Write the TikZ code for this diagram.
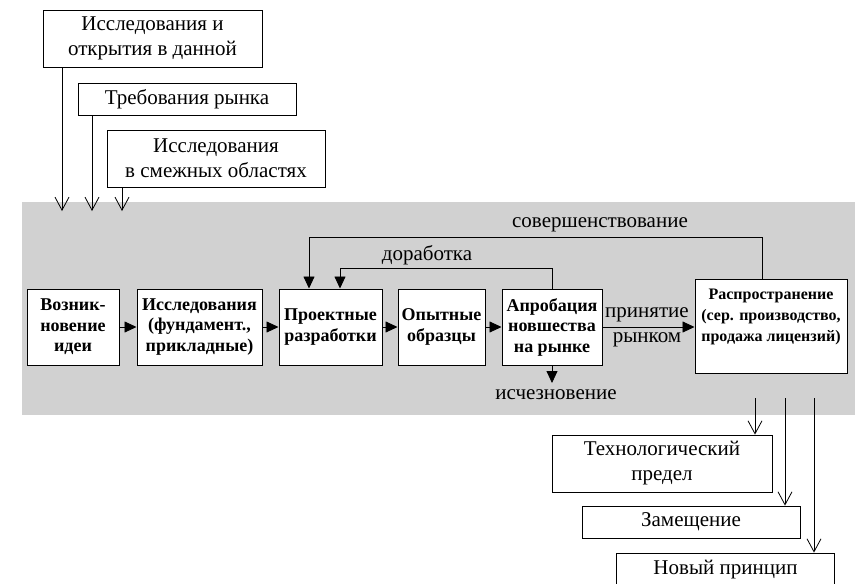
\documentclass[tikz,border=0pt]{standalone}
\usepackage{fontspec}
\setmainfont{Liberation Serif}
\usetikzlibrary{arrows.meta}
\definecolor{bandgray}{gray}{0.82}

\begin{document}
\begin{tikzpicture}[x=1pt,y=-1pt,
    stage/.style={draw, line width=1pt, fill=white, align=center, inner sep=1pt,
      minimum height=76pt, font=\fontsize{18}{20.5}\selectfont\bfseries},
    source/.style={draw, line width=0.8pt, fill=white, align=center, inner sep=1pt,
      font=\fontsize{21}{25}\selectfont},
    lbl/.style={inner sep=0pt, font=\fontsize{21}{25}\selectfont},
    feed/.style={line width=0.8pt, -{Triangle[length=12pt,width=11pt]}},
    inarrow/.style={line width=0.8pt, -{Straight Barb[length=13pt,width=14pt]}}]
    \useasboundingbox (0,0) rectangle (855,584);
    % Grey band of the innovation process
    \fill[bandgray] (22,202) rectangle (856,415);
    % Sources of the idea
    \node[source, minimum width=219pt, minimum height=57pt] (own) at (152.5,38.5) {Исследования и\\открытия в данной};
    \node[source, minimum width=218pt, minimum height=32pt] (market) at (187,99) {Требования рынка};
    \node[source, minimum width=218pt, minimum height=57pt] (adjacent) at (216,158.5) {Исследования\\в смежных областях};
    \coordinate (in1) at (62,211);
    \coordinate (in2) at (92,211);
    \coordinate (in3) at (122,211);
    \draw[inarrow] (own.south -| in1) -- (in1);
    \draw[inarrow] (market.south -| in2) -- (in2);
    \draw[inarrow] (adjacent.south -| in3) -- (in3);
    % Stages
    \node[stage, minimum width=92pt] (idea) at (73,327) {Возник-\\новение\\идеи};
    \node[stage, minimum width=125pt] (research) at (199.5,327) {Исследования\\(фундамент.,\\прикладные)};
    \node[stage, minimum width=103pt] (design) at (330.5,327) {Проектные\\разработки};
    \node[stage, minimum width=87pt] (proto) at (441.5,327) {Опытные\\образцы};
    \node[stage, minimum width=100pt] (trial) at (552,327) {Апробация\\новшества\\на рынке};
    \node[stage, minimum width=152pt, minimum height=94pt, font=\fontsize{16}{21}\selectfont\bfseries] (spread) at (771,326)
      {Распространение\\(сер. производство,\\продажа лицензий)\\\mbox{}};
    \draw[feed] (idea) -- (research);
    \draw[feed] (research) -- (design);
    \draw[feed] (design) -- (proto);
    \draw[feed] (proto) -- (trial);
    \draw[feed] (trial.east) -- (trial.east -| spread.west);
    % Feedback loops
    \draw[feed] (trial.north) -- ++(0,-20) -| ([xshift=9.5pt]design.north);
    \draw[feed] ([xshift=-9pt]spread.north) -- ++(0,-41) -| ([xshift=-21.5pt]design.north);
    \node[lbl, anchor=base] (rework) at (427,260) {доработка};
    \node[lbl, anchor=base] (improve) at (600,227) {совершенствование};
    \node[lbl, anchor=base] (accept1) at (647,317) {принятие};
    \node[lbl, anchor=base] (accept2) at (647,342) {рынком};
    % Failure
    \coordinate (goneTip) at (552,383);
    \draw[feed] (trial.south) -- (goneTip);
    \node[lbl, anchor=base] (gone) at (556,399) {исчезновение};
    % End of the cycle
    \node[source, minimum width=220pt, minimum height=57pt] (limit) at (662,463.5) {Технологический\\предел};
    \node[source, minimum width=218pt, minimum height=32pt] (subst) at (691,522) {Замещение};
    \node[source, minimum width=218pt, minimum height=34pt] (newpr) at (725.5,570) {Новый принцип};
    \coordinate (out1) at (755,398);
    \coordinate (out2) at (785,398);
    \coordinate (out3) at (814,398);
    \draw[inarrow] (out1) -- (out1 |- limit.north);
    \draw[inarrow] (out2) -- (out2 |- subst.north);
    \draw[inarrow] (out3) -- (out3 |- newpr.north);
\end{tikzpicture}
\end{document}
